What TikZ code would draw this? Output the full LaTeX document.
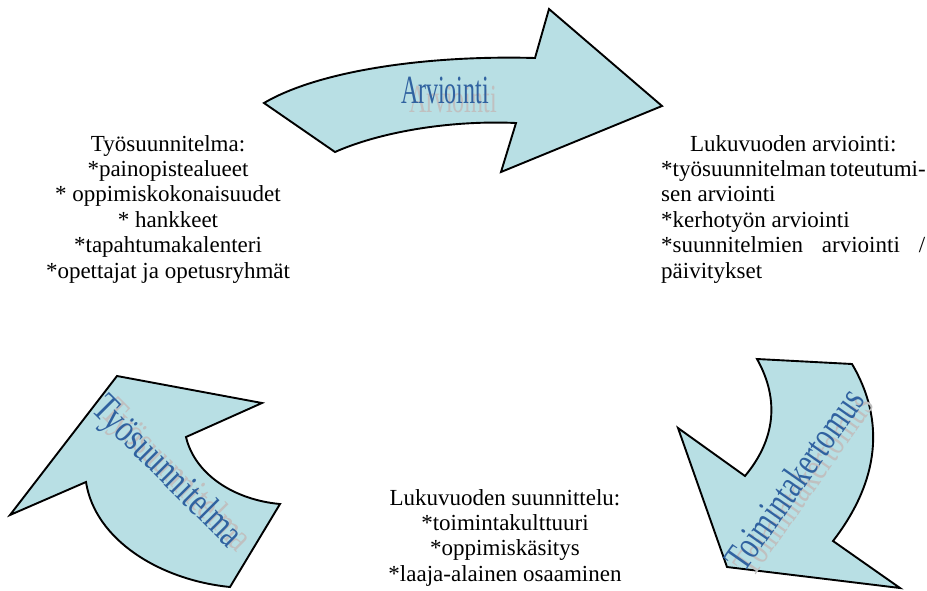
\documentclass[tikz,border=0pt]{standalone}
\usepackage{fontspec}
\setmainfont{Liberation Serif}
\definecolor{arrowfill}{RGB}{184,223,228}
\definecolor{wablue}{RGB}{48,98,160}
\definecolor{wagrey}{RGB}{192,192,192}
\tikzset{
  bigarrow/.style={draw=black, line width=1.9pt, fill=arrowfill, line join=miter},
  bodytext/.style={inner sep=0pt, font=\fontsize{23}{25.4}\selectfont},
  wordart/.style={inner sep=0pt, text=wablue, font=\fontsize{40}{40}\selectfont},
  wordshadow/.style={inner sep=0pt, text=wagrey, font=\fontsize{40}{40}\selectfont},
}
\begin{document}
\begin{tikzpicture}[x=1pt,y=-1pt]
\useasboundingbox (0,0) rectangle (927,590);

% top arrow
\path[bigarrow] (264,103) .. controls (320,70) and (430,55) .. (535,58) -- (549,9) -- (662,106) -- (501,172) -- (516,123) .. controls (450,120) and (380,132) .. (335,152) -- cycle;
% right arrow
\path[bigarrow] (757,359) -- (852,364) .. controls (885,420) and (880,480) .. (833,541) -- (900,588) -- (727,567) -- (678,428) -- (745,476) .. controls (775,440) and (780,400) .. (757,359) -- cycle;
% left arrow
\path[bigarrow] (117,376) -- (262,403) -- (186,437) .. controls (195,475) and (235,500) .. (280,504) -- (230,587) .. controls (160,580) and (95,540) .. (86,482) -- (10,515) -- cycle;

% word art labels
\node[wordshadow, anchor=base] (arvs) at (453,112) {\scalebox{0.6}[1]{Arviointi}};
\node[wordart, anchor=base] (arv) at (445,103) {\scalebox{0.6}[1]{Arviointi}};

\node[wordshadow, rotate=55] (toims) at (803,484) {\scalebox{0.72}[1]{Toimintakertomus}};
\node[wordart, rotate=55] (toim) at (794,479) {\scalebox{0.72}[1]{Toimintakertomus}};

\node[wordshadow, rotate=-45] (tyos) at (175,477) {\scalebox{0.76}[1]{Työsuunnitelma}};
\node[wordart, rotate=-45] (tyo) at (166,473) {\scalebox{0.76}[1]{Työsuunnitelma}};

% text blocks
\node[bodytext, align=center, anchor=north] (left) at (168,135) {Työsuunnitelma:\\*painopistealueet\\* oppimiskokonaisuudet\\* hankkeet\\*tapahtumakalenteri\\*opettajat ja opetusryhmät};

\node[bodytext, align=left, anchor=north west] (right) at (661,135) {\makebox[264pt][c]{Lukuvuoden arviointi:}\\\makebox[264pt][s]{*työsuunnitelman toteutumi-}\\sen arviointi\\*kerhotyön arviointi\\\makebox[264pt][s]{*suunnitelmien arviointi /}\\päivitykset};

\node[bodytext, align=center, anchor=north] (bottom) at (505,489) {Lukuvuoden suunnittelu:\\*toimintakulttuuri\\*oppimiskäsitys\\*laaja-alainen osaaminen};
\end{tikzpicture}
\end{document}
